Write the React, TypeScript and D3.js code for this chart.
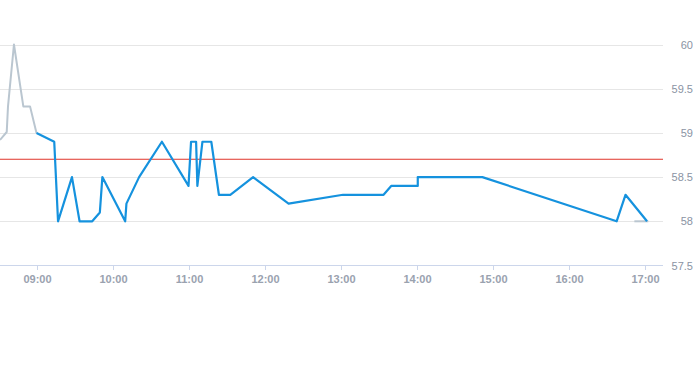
import React from "react";
import * as d3 from "d3";

const yTicks = [57.5, 58, 58.5, 59, 59.5, 60];
const yTickLabels = ["57.5", "58", "58.5", "59", "59.5", "60"];
const xTickLabels = ["09:00", "10:00", "11:00", "12:00", "13:00", "14:00", "15:00", "16:00", "17:00"];
const referenceValue = 58.7;

const preTimes = ["08:31:12", "08:36:30", "08:37:30", "08:42:12", "08:49:36", "08:54:54", "09:00:00"];
const preValues = [58.92, 59.01, 59.3, 60.0, 59.3, 59.3, 59.0];

const mainTimes = [
  "09:00", "09:14", "09:17", "09:28", "09:34", "09:44", "09:50", "09:52", "10:10", "10:11",
  "10:21", "10:39", "11:00", "11:02", "11:06", "11:07", "11:11", "11:18", "11:24", "11:33",
  "11:51", "12:19", "13:02", "13:34", "13:40", "14:01", "14:01", "14:52", "16:38", "16:45", "17:02",
];
const mainValues = [
  59.0, 58.9, 58.0, 58.5, 58.0, 58.0, 58.1, 58.5, 58.0, 58.2,
  58.5, 58.9, 58.4, 58.9, 58.9, 58.4, 58.9, 58.9, 58.3, 58.3,
  58.5, 58.2, 58.3, 58.3, 58.4, 58.4, 58.5, 58.5, 58.0, 58.3, 58.0,
];

const postTimes = ["16:52", "17:03"];
const postValues = [58.0, 58.0];

const W = 693;
const H = 365;

function parseT(s: string): Date {
  const [h, m, sec] = s.split(":").map(Number);
  return new Date(2024, 0, 1, h, m, sec || 0);
}

export default function App() {
  const x = d3
    .scaleTime()
    .domain([parseT("09:00"), parseT("17:00")])
    .range([36.5, 644.5]);
  const y = d3.scaleLinear().domain([57.5, 60]).range([265.5, 44.5]);
  const plotLeft = 0;
  const plotRight = 663;

  const line = d3
    .line<[Date, number]>()
    .x((d) => x(d[0]))
    .y((d) => y(d[1]));

  const pre: [Date, number][] = preTimes.map((t, i) => [parseT(t), preValues[i]]);
  const main: [Date, number][] = mainTimes.map((t, i) => [parseT(t), mainValues[i]]);
  const post: [Date, number][] = postTimes.map((t, i) => [parseT(t), postValues[i]]);

  const font = "'Liberation Sans', Arial, Helvetica, sans-serif";
  const refY = Math.round(y(referenceValue)) + 0.25;

  return (
    <svg
      width={W}
      height={H}
      style={{ position: "absolute", left: 0, top: 0, background: "#fff" }}
    >
      {yTicks.slice(1).map((v) => (
        <line
          key={v}
          x1={plotLeft}
          x2={plotRight}
          y1={Math.round(y(v)) + 0.5}
          y2={Math.round(y(v)) + 0.5}
          stroke="#e6e6e6"
          strokeWidth={1}
        />
      ))}
      <line x1={plotLeft} x2={plotRight} y1={265.5} y2={265.5} stroke="#ccd6eb" strokeWidth={1} />
      {xTickLabels.map((lab) => {
        const px = Math.round(x(parseT(lab))) + 0.5;
        return (
          <g key={lab}>
            <line x1={px} x2={px} y1={265.5} y2={270} stroke="#ccd6eb" strokeWidth={1} />
            <text
              x={px}
              y={283}
              textAnchor="middle"
              fontFamily={font}
              fontSize={11}
              fontWeight="bold"
              fill="#9aa2af"
            >
              {lab}
            </text>
          </g>
        );
      })}
      {yTicks.map((v, i) => (
        <text
          key={v}
          x={693}
          y={y(v) + 4}
          textAnchor="end"
          fontFamily={font}
          fontSize={11}
          fill="#8a93a3"
        >
          {yTickLabels[i]}
        </text>
      ))}
      <line x1={plotLeft} x2={plotRight} y1={refY} y2={refY} stroke="#e0352b" strokeWidth={1} />
      <path d={line(pre) || ""} fill="none" stroke="#bac6d0" strokeWidth={2} strokeLinejoin="round" />
      <path d={line(post) || ""} fill="none" stroke="#bac6d0" strokeWidth={2} strokeLinejoin="round" />
      <path d={line(main) || ""} fill="none" stroke="#1592de" strokeWidth={2.2} strokeLinejoin="round" />
    </svg>
  );
}
